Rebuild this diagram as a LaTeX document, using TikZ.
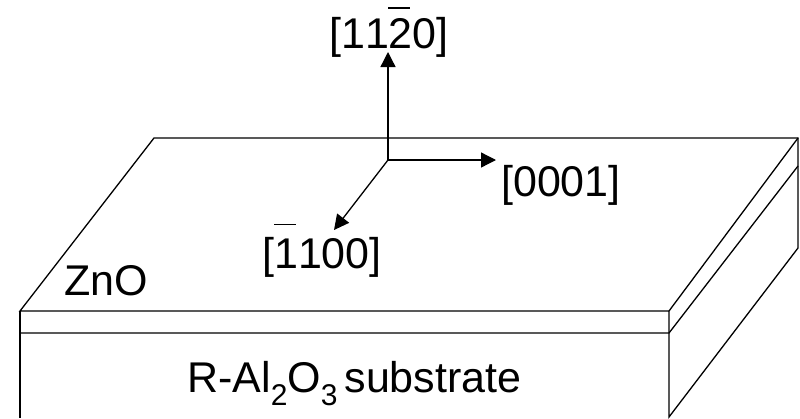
\documentclass[tikz,border=0pt]{standalone}
\usepackage{fontspec}
\setmainfont{Liberation Sans}[Kerning=Off]
\usetikzlibrary{arrows.meta}
\newcommand{\lbl}[1]{{\fontsize{43}{43}\selectfont #1}}
\newcommand{\subdigit}[1]{\raisebox{-13pt}{\fontsize{30}{30}\selectfont #1}}
\tikzset{
  edge/.style={draw=black,line width=1.3pt},
  axis/.style={draw=black,line width=1.3pt,-{Triangle[length=15pt,width=15pt]}},
  label/.style={inner sep=0pt,anchor=base west,text=black},
  overbar/.style={draw=black,line width=1.2pt}
}
\begin{document}
\begin{tikzpicture}[x=1pt,y=-1pt]
\useasboundingbox (0,0) rectangle (800,418);
\coordinate (ftl) at (20,311);
\coordinate (ftr) at (669,311);
\coordinate (btl) at (154,138);
\coordinate (btr) at (798,138);
\coordinate (fml) at (20,333);
\coordinate (fmr) at (669,333);
\coordinate (bmr) at (798,166);
\coordinate (fbl) at (20,418);
\coordinate (fbr) at (669,417);
\coordinate (bbr) at (798,248);
\coordinate (o) at (388,160);
\coordinate (u) at (388,52);
\coordinate (r) at (496,160);
\coordinate (d) at (334,230);
\coordinate (b1a) at (388,8);
\coordinate (b1b) at (410,8);
\coordinate (b2a) at (274,224.5);
\coordinate (b2b) at (296,224.5);
\draw[edge] (ftl) -- (btl) -- (btr) -- (bbr) -- (fbr) -- (ftr) -- cycle;
\draw[edge] (ftl) -- (fbl);
\draw[edge] (fml) -- (fmr) -- (bmr);
\draw[edge] (ftr) -- (btr);
\draw[axis] (o) -- (u);
\draw[axis] (o) -- (r);
\draw[axis] (o) -- (d);
\draw[overbar] (b1a) -- (b1b);
\draw[overbar] (b2a) -- (b2b);
\node[label] (t1) at (329,48) {\lbl{[1120]}};
\node[label] (t2) at (501,196) {\lbl{[0001]}};
\node[label] (t3) at (262,268) {\lbl{[1100]}};
\node[label] (t4) at (64,295) {\lbl{ZnO}};
\node[label] (t5) at (187,392) {\lbl{R-Al\subdigit{2}O\subdigit{3}\hspace{-5pt} substrate}};
\end{tikzpicture}
\end{document}
